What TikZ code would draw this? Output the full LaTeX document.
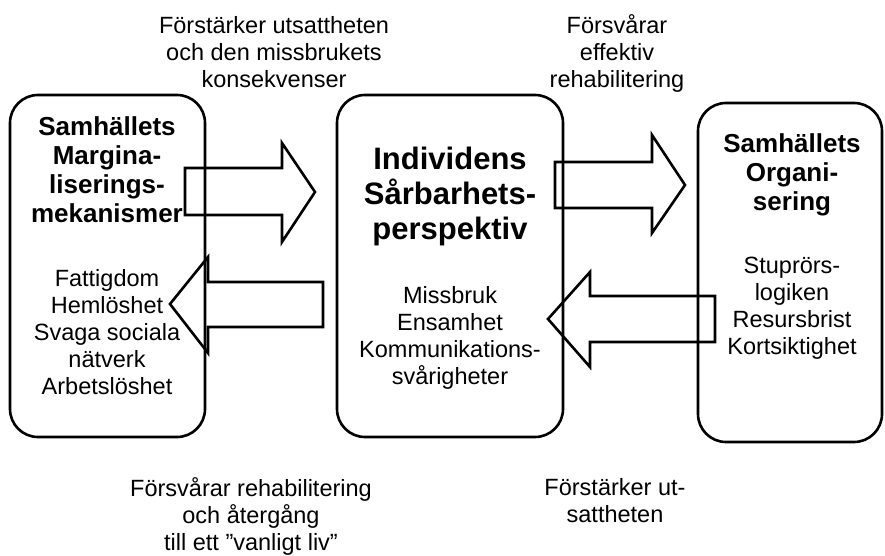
\documentclass[tikz,border=0pt]{standalone}
\usepackage{fontspec}
\setmainfont{Liberation Sans}

\begin{document}
\begin{tikzpicture}[x=1pt,y=-1pt]
    \tikzstyle{box}=[draw, line width=2.6pt, rounded corners=28pt, inner sep=0pt]
    \tikzstyle{flow}=[draw, line width=2.6pt, line join=miter]
    \tikzstyle{title}=[align=center, font=\fontsize{26}{29}\selectfont\bfseries]
    \tikzstyle{bigtitle}=[align=center, font=\fontsize{31}{35}\selectfont\bfseries]
    \tikzstyle{txt}=[align=center, font=\fontsize{23.5}{27}\selectfont]

    \useasboundingbox (0,0) rectangle (885,556);

    \node[box, minimum width=195pt, minimum height=342pt] (marg) at (107.5,266) {};
    \node[box, minimum width=226pt, minimum height=342pt] (indiv) at (450,266) {};
    \node[box, minimum width=184pt, minimum height=339pt] (org) at (790,272.5) {};

    \node[title] (margtitle) at (107,170) {Samhällets\\Margina-\\liserings-\\mekanismer};
    \node[txt] (margtxt) at (107,332) {Fattigdom\\Hemlöshet\\Svaga sociala\\nätverk\\Arbetslöshet};

    \node[bigtitle] (indivtitle) at (450,196) {Individens\\Sårbarhets-\\perspektiv};
    \node[txt] (indivtxt) at (450,338) {Missbruk\\Ensamhet\\Kommunikations-\\svårigheter};

    \node[title] (orgtitle) at (792,175) {Samhällets\\Organi-\\sering};
    \node[txt] (orgtxt) at (792,308) {Stuprörs-\\logiken\\Resursbrist\\Kortsiktighet};

    \node[txt] (toplabel) at (274,52) {Förstärker utsattheten\\och den missbrukets\\konsekvenser};
    \node[txt] (rightlabel) at (617,53) {Försvårar\\effektiv\\rehabilitering};
    \node[txt] (bottomlabel) at (251,516) {Försvårar rehabilitering\\och återgång\\till ett ”vanligt liv”};
    \node[txt] (lowlabel) at (615,501) {Förstärker ut-\\sattheten};

    \draw[flow] (185,168) -- (282,168) -- (282,143) -- (315,192) -- (282,242)
        -- (282,215) -- (185,215) -- cycle;
    \draw[flow] (323,282) -- (208,282) -- (208,257) -- (170,304) -- (208,353)
        -- (208,327) -- (323,327) -- cycle;
    \draw[flow] (555,162) -- (652,162) -- (652,135) -- (685,185) -- (652,233)
        -- (652,208) -- (555,208) -- cycle;
    \draw[flow] (715,296) -- (590,296) -- (590,272) -- (548,319) -- (590,367)
        -- (590,342) -- (715,342) -- cycle;
\end{tikzpicture}
\end{document}
